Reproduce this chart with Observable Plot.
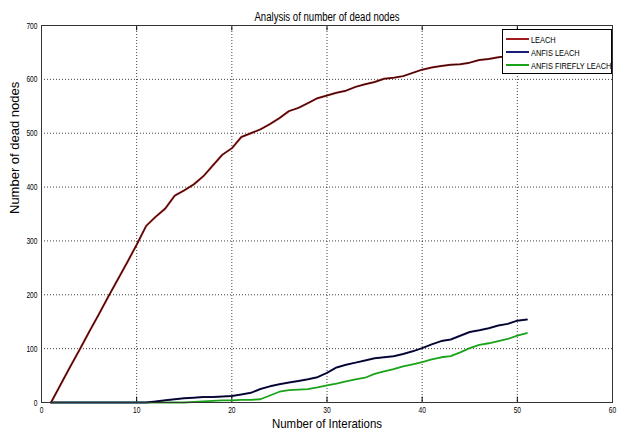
<!DOCTYPE html>
<html><head><meta charset="utf-8">
<script src="https://cdn.jsdelivr.net/npm/d3@7"></script>
<script src="https://cdn.jsdelivr.net/npm/@observablehq/plot@0.6"></script>
<style>
body{margin:0;background:#fff;}
#wrap{position:relative;width:619px;height:434px;}
#legend{position:absolute;left:502px;top:29px;width:108px;height:43px;border:1px solid #000;background:#fff;font-family:"Liberation Sans",Arial,sans-serif;font-size:9.5px;color:#000;}
#legend .item{position:absolute;left:3px;height:12px;display:flex;align-items:center;white-space:nowrap;}
#legend .sw{width:23px;height:0;border-top:2px solid;margin-right:2px;flex:none;}
#legend .lab{display:inline-block;transform:scaleX(0.78);transform-origin:left center;}
</style></head>
<body><div id="wrap"></div>
<script>
const iterations = [1,2,3,4,5,6,7,8,9,10,11,12,13,14,15,16,17,18,19,20,21,22,23,24,25,26,27,28,29,30,31,32,33,34,35,36,37,38,39,40,41,42,43,44,45,46,47,48,49,50,51];
const leach = [0,33,66,98,131,163,196,228,260,293,328,345,360,384,394,405,420,440,460,472,493,500,507,517,528,541,547,556,565,570,575,579,586,591,595,601,603,606,612,618,622,625,627,628,631,636,638,641,643,646,648];
const anfisLeach = [0,0,0,0,0,0,0,0,0,0,0,2,4,6,8,9,10,10,11,12,15,18,25,30,34,37,40,43,47,55,65,70,74,78,82,84,86,90,95,101,108,114,117,124,131,134,138,143,146,152,154];
const anfisFireflyLeach = [0,0,0,0,0,0,0,0,0,0,0,0,0,0,0,1,2,3,4,4,5,5,6,13,20,23,24,25,28,32,35,39,43,46,53,58,62,67,71,75,80,84,86,93,101,107,110,114,118,124,129];
const seriesNames = ["LEACH","ANFIS LEACH","ANFIS FIREFLY LEACH"];
const seriesColors = ["#a01c1c","#1c1c78","#1aa31a"];
const xTicks = [0,10,20,30,40,50,60];
const yTicks = [0,100,200,300,400,500,600,700];
const titleText = "Analysis of number of dead nodes";
const xLabel = "Number of Interations";
const yLabel = "Number of dead nodes";

const mk = (ys) => iterations.map((x,i)=>({x, y: ys[i]}));
const dLeach = mk(leach), dAnfis = mk(anfisLeach), dFire = mk(anfisFireflyLeach);
const sans = '"Liberation Sans",Arial,sans-serif';
const innerX = xTicks.filter(t=>t>0 && t<60);

const chart = Plot.plot({
  width: 619, height: 434,
  marginLeft: 41, marginRight: 7, marginTop: 25, marginBottom: 32,
  style: {fontFamily: sans, fontSize: "9px", background: "#fff", color: "#000"},
  x: {domain: [0,60]},
  y: {domain: [0,700]},
  marks: [
    Plot.gridX(innerX, {stroke:"#000", strokeOpacity:0.75, strokeDasharray:"1,2"}),
    Plot.gridY(yTicks.filter(t=>t>0 && t<700), {stroke:"#000", strokeOpacity:0.75, strokeDasharray:"1,2"}),
    Plot.axisX(xTicks, {tickSize:0, tickPadding:4, fontSize:9.5, label:null, className:"narrow-tick"}),
    Plot.axisY(yTicks, {tickSize:0, tickPadding:4, fontSize:9.5, label:null, className:"narrow-tick"}),
    Plot.ruleX(innerX, {x:d=>d, y1:700, y2:690, stroke:"#000", strokeWidth:1}),
    Plot.ruleX(innerX, {x:d=>d, y1:0, y2:10, stroke:"#000", strokeWidth:1}),
    Plot.line(dFire, {x:"x", y:"y", stroke: seriesColors[2], strokeWidth: 1.8}),
    Plot.line(dAnfis, {x:"x", y:"y", stroke: seriesColors[1], strokeWidth: 2}),
    Plot.line(dAnfis, {x:"x", y:"y", stroke: "#000", strokeWidth: 1}),
    Plot.line(dLeach, {x:"x", y:"y", stroke: seriesColors[0], strokeWidth: 2}),
    Plot.line(dLeach, {x:"x", y:"y", stroke: "#000", strokeWidth: 0.9, strokeOpacity:0.8}),
    Plot.frame({stroke:"#333", strokeWidth:1}),
    Plot.text([titleText], {frameAnchor:"top", dy:-13, fontSize:12, className:"narrow-title"}),
    Plot.text([xLabel], {frameAnchor:"bottom", dy:25, fontSize:13, className:"narrow-xlab"}),
    Plot.text([yLabel], {frameAnchor:"left", rotate:-90, dx:-27, fontSize:13})
  ]
});
const wrap = document.getElementById("wrap");
wrap.appendChild(chart);

function squeeze(sel, k){
  chart.querySelectorAll(sel + " text").forEach(t=>{
    const L = t.getComputedTextLength();
    if (L > 0) { t.setAttribute("textLength", (L*k).toFixed(2)); t.setAttribute("lengthAdjust","spacingAndGlyphs"); }
  });
}
squeeze(".narrow-tick", 0.7);
squeeze(".narrow-title", 0.8);
squeeze(".narrow-xlab", 0.88);

const legend = document.createElement("div");
legend.id = "legend";
seriesNames.forEach((n,i)=>{
  const it = document.createElement("div");
  it.className = "item";
  it.style.top = (3 + i*13) + "px";
  const sw = document.createElement("span");
  sw.className = "sw";
  sw.style.borderTopColor = seriesColors[i];
  const t = document.createElement("span");
  t.className = "lab";
  t.textContent = n;
  it.appendChild(sw); it.appendChild(t);
  legend.appendChild(it);
});
wrap.appendChild(legend);
</script></body></html>
